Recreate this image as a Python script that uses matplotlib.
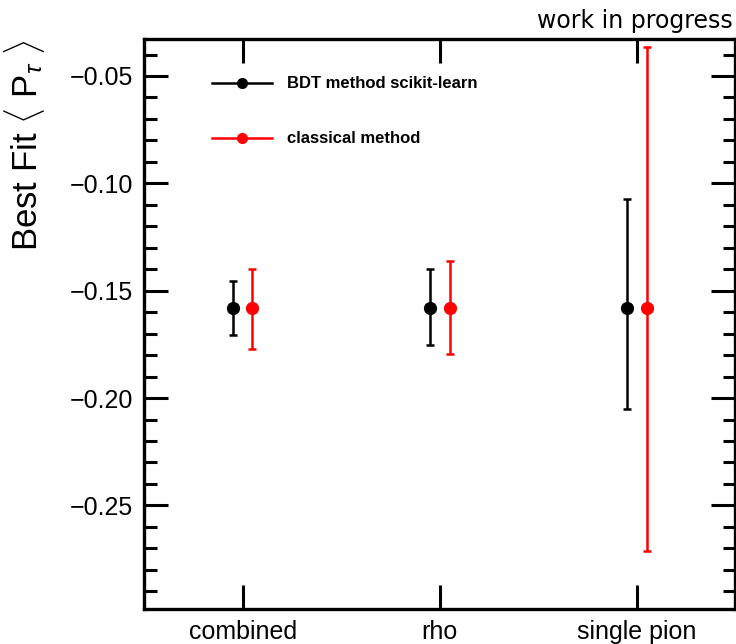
import matplotlib
matplotlib.use('Agg')
import matplotlib.pyplot as plt
from matplotlib.lines import Line2D
from matplotlib.ticker import MultipleLocator

plt.rcParams['font.family'] = ['Liberation Sans', 'DejaVu Sans']
plt.rcParams['mathtext.fontset'] = 'custom'
plt.rcParams['mathtext.rm'] = 'Liberation Sans'
plt.rcParams['mathtext.it'] = 'Liberation Sans:italic'

categories = ['combined', 'rho', 'single pion']
bdt_value = [-0.158, -0.158, -0.158]
bdt_low = [-0.1707, -0.1753, -0.2051]
bdt_high = [-0.1456, -0.1400, -0.1074]
cls_value = [-0.158, -0.158, -0.158]
cls_low = [-0.1772, -0.1795, -0.2712]
cls_high = [-0.1400, -0.1363, -0.0367]

centers = [i + 0.5 for i in range(len(categories))]
shift = 0.05

fig = plt.figure(figsize=(7.36, 6.44), dpi=100)
ax = fig.add_axes([0.1957, 0.0551, 0.8033, 0.8836])

def draw(offset, vals, lo, hi, color):
    xs = [c + offset for c in centers]
    err = [[v - l for v, l in zip(vals, lo)], [h - v for v, h in zip(vals, hi)]]
    ax.errorbar(xs, vals, yerr=err, fmt='o', color=color, ms=8.5, elinewidth=1.8,
                capsize=3.2, capthick=1.8, zorder=3)

draw(-shift, bdt_value, bdt_low, bdt_high, 'black')
draw(shift, cls_value, cls_low, cls_high, 'red')

ax.set_xlim(0, 3)
ax.set_ylim(-0.298, -0.033)
ax.set_xticks(centers)
ax.set_xticklabels(categories, fontsize=18)
ax.yaxis.set_major_locator(MultipleLocator(0.05))
ax.yaxis.set_minor_locator(MultipleLocator(0.01))
ax.set_yticks([-0.25, -0.20, -0.15, -0.10, -0.05])
ax.set_yticklabels(['\u22120.25', '\u22120.20', '\u22120.15', '\u22120.10', '\u22120.05'], fontsize=18)
ax.tick_params(axis='both', which='major', direction='in', length=17, width=2.2,
               top=True, right=True, pad=8)
ax.tick_params(axis='y', which='minor', direction='in', length=9, width=2.2, right=True)
ax.tick_params(axis='x', which='minor', bottom=False, top=False)
for s in ax.spines.values():
    s.set_linewidth(2.4)

ax.set_ylabel(r'Best Fit $\langle$ P$_{\tau}$ $\rangle$', fontsize=25, loc='top', labelpad=16)

handles = [Line2D([], [], color='black', marker='o', ms=7, lw=1.8),
           Line2D([], [], color='red', marker='o', ms=7, lw=1.8)]
ax.legend(handles, ['BDT method scikit-learn', 'classical method'],
          loc='upper left', bbox_to_anchor=(0.1147, 0.935), frameon=False,
          borderpad=0, borderaxespad=0, handlelength=3.6, handletextpad=0.9,
          labelspacing=2.4, prop={'weight': 'bold', 'size': 12})

fig.text(0.996, 0.957, 'work in progress', ha='right', va='baseline',
         fontsize=17, family='DejaVu Sans')

fig.savefig('out.png', dpi=100)
